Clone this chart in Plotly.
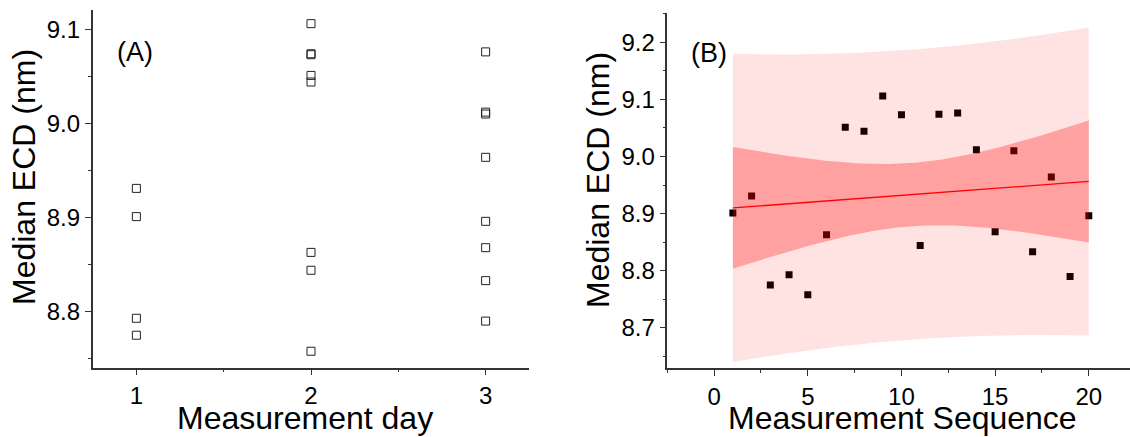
import numpy as np
import plotly.graph_objects as go

# Median equivalent circular diameter for each measurement, in run order
sequence = list(range(1, 21))
day = [1, 1, 1, 1,
       2, 2, 2, 2, 2, 2, 2, 2,
       3, 3, 3, 3, 3, 3, 3, 3]
median_ecd = [8.901, 8.931, 8.775, 8.793, 8.758, 8.863, 9.051, 9.044, 9.106, 9.073,
              8.844, 9.074, 9.076, 9.012, 8.868, 9.010, 8.833, 8.964, 8.790, 8.896]

day_ticks = [1, 2, 3]
day_tick_labels = ["1", "2", "3"]
seq_ticks = [0, 5, 10, 15, 20]
ecd_ticks_a = [8.8, 8.9, 9.0, 9.1]
ecd_ticks_b = [8.7, 8.8, 8.9, 9.0, 9.1, 9.2]

# Linear fit of ECD against sequence with 95% confidence and prediction bands
T_95_DF18 = 2.100922  # two-sided 95% Student t quantile, n - 2 = 18 dof
xs = np.array(sequence, dtype=float)
ys = np.array(median_ecd, dtype=float)
n = len(xs)
slope, intercept = np.polyfit(xs, ys, 1)
resid = ys - (slope * xs + intercept)
s = np.sqrt(np.sum(resid ** 2) / (n - 2))
xbar = xs.mean()
sxx = np.sum((xs - xbar) ** 2)
xg = np.linspace(xs.min(), xs.max(), 200)
yg = slope * xg + intercept
half_ci = T_95_DF18 * s * np.sqrt(1.0 / n + (xg - xbar) ** 2 / sxx)
half_pi = T_95_DF18 * s * np.sqrt(1.0 + 1.0 / n + (xg - xbar) ** 2 / sxx)

W, H = 1130, 437
FONT = 'Arial, "Liberation Sans", sans-serif'
AXIS_COLOR = "#333333"

fig = go.Figure()

# Panel A: ECD grouped by measurement day
fig.add_trace(go.Scatter(
    x=day, y=median_ecd, mode="markers", xaxis="x", yaxis="y",
    marker=dict(symbol="square-open", size=8, color="#222222", line=dict(width=1)),
    showlegend=False, hoverinfo="x+y",
))

# Panel B: ECD by sequence, bands drawn over the points
fig.add_trace(go.Scatter(
    x=sequence, y=median_ecd, mode="markers", xaxis="x2", yaxis="y2",
    marker=dict(symbol="square", size=7, color="#000000", line=dict(width=0)),
    showlegend=False,
))
fig.add_trace(go.Scatter(
    x=np.concatenate([xg, xg[::-1]]),
    y=np.concatenate([yg + half_pi, (yg - half_pi)[::-1]]),
    mode="lines", fill="toself", fillcolor="rgba(255,0,0,0.11)",
    line=dict(width=0), xaxis="x2", yaxis="y2", showlegend=False, hoverinfo="skip",
))
fig.add_trace(go.Scatter(
    x=np.concatenate([xg, xg[::-1]]),
    y=np.concatenate([yg + half_ci, (yg - half_ci)[::-1]]),
    mode="lines", fill="toself", fillcolor="rgba(255,0,0,0.29)",
    line=dict(width=0), xaxis="x2", yaxis="y2", showlegend=False, hoverinfo="skip",
))
fig.add_trace(go.Scatter(
    x=xg, y=yg, mode="lines", line=dict(color="#ff0000", width=1.3),
    xaxis="x2", yaxis="y2", showlegend=False,
))

common = dict(
    showline=True, linecolor=AXIS_COLOR, linewidth=1.5, mirror=False,
    showgrid=False, zeroline=False, ticks="outside", ticklen=6, tickwidth=1.2,
    tickcolor=AXIS_COLOR, tickfont=dict(family=FONT, size=24, color="#000000"),
)

fig.update_layout(
    width=W, height=H, margin=dict(l=0, r=0, t=0, b=0),
    paper_bgcolor="white", plot_bgcolor="white",
    font=dict(family=FONT, color="#000000"),
    xaxis=dict(
        domain=[92.7 / W, 529.3 / W], range=[0.75, 3.25], anchor="y",
        tickvals=day_ticks, ticktext=day_tick_labels,
        minor=dict(ticks="outside", ticklen=3, tickvals=[1.5, 2.5], tickcolor=AXIS_COLOR),
        **common,
    ),
    yaxis=dict(
        domain=[1 - 367.7 / H, 1 - 10 / H], range=[8.7405, 9.1205], anchor="x",
        tickvals=ecd_ticks_a, tickformat=".1f",
        minor=dict(ticks="outside", ticklen=3, dtick=0.05, tickcolor=AXIS_COLOR),
        **common,
    ),
    xaxis2=dict(
        domain=[667.3 / W, 1.0], range=[-2.5, 22.2], anchor="y2",
        tickvals=seq_ticks,
        minor=dict(ticks="outside", ticklen=3, dtick=2.5, tickcolor=AXIS_COLOR),
        **common,
    ),
    yaxis2=dict(
        domain=[1 - 368.3 / H, 1 - 13.3 / H], range=[8.629, 9.2508], anchor="x2",
        tickvals=ecd_ticks_b, tickformat=".1f",
        minor=dict(ticks="outside", ticklen=3, dtick=0.05, tickcolor=AXIS_COLOR),
        **common,
    ),
)

title_font = dict(family=FONT, size=32, color="#000000")
# x-axis titles sit on the bottom edge of the figure
for text, xc in [("Measurement day", 305), ("Measurement Sequence", 902)]:
    fig.add_annotation(text=text, x=xc / W, y=0, xref="paper", yref="paper",
                       showarrow=False, xanchor="center", yanchor="bottom",
                       borderpad=0, font=title_font)
for xc, yc in [(24, 177), (598, 180)]:
    fig.add_annotation(text="Median ECD (nm)", x=xc / W, y=1 - yc / H,
                       xref="paper", yref="paper", textangle=-90, showarrow=False,
                       xanchor="center", yanchor="middle", font=title_font)

panel_font = dict(family=FONT, size=27, color="#000000")
fig.add_annotation(text="(A)", x=135 / W, y=1 - 52 / H, xref="paper", yref="paper",
                   showarrow=False, xanchor="center", yanchor="middle", font=panel_font)
fig.add_annotation(text="(B)", x=709 / W, y=1 - 53 / H, xref="paper", yref="paper",
                   showarrow=False, xanchor="center", yanchor="middle", font=panel_font)

fig.write_html("out.html")
